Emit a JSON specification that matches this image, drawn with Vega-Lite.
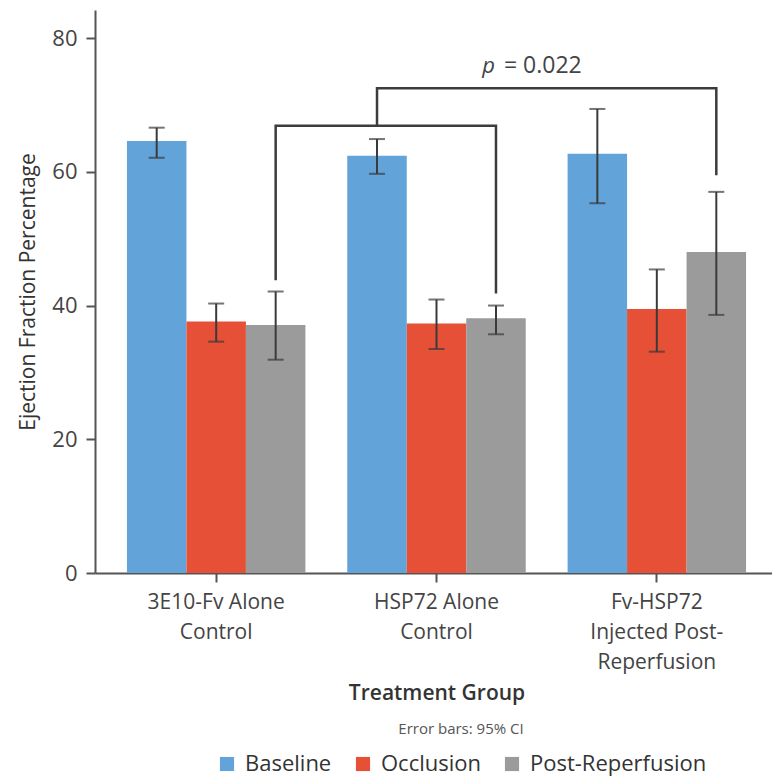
{
  "$schema": "https://vega.github.io/schema/vega-lite/v6.json",
  "width": 683,
  "height": 563,
  "padding": {"left": 17, "top": 10, "right": 0, "bottom": 5},
  "config": {
    "font": "Open Sans",
    "view": {"stroke": null},
    "axis": {"labelColor": "#444444", "titleColor": "#333333", "domainColor": "#555555", "tickColor": "#555555", "domainWidth": 2, "tickWidth": 2, "grid": false}
  },
  "datasets": {
    "bars": [
      {"group": "3E10-Fv Alone\nControl", "series": "Baseline", "value": 64.6, "lo": 62.1, "hi": 66.6},
      {"group": "3E10-Fv Alone\nControl", "series": "Occlusion", "value": 37.6, "lo": 34.6, "hi": 40.3},
      {"group": "3E10-Fv Alone\nControl", "series": "Post-Reperfusion", "value": 37.1, "lo": 31.9, "hi": 42.1},
      {"group": "HSP72 Alone\nControl", "series": "Baseline", "value": 62.4, "lo": 59.7, "hi": 64.9},
      {"group": "HSP72 Alone\nControl", "series": "Occlusion", "value": 37.3, "lo": 33.5, "hi": 40.9},
      {"group": "HSP72 Alone\nControl", "series": "Post-Reperfusion", "value": 38.1, "lo": 35.7, "hi": 40.0},
      {"group": "Fv-HSP72\nInjected Post-\nReperfusion", "series": "Baseline", "value": 62.7, "lo": 55.3, "hi": 69.4},
      {"group": "Fv-HSP72\nInjected Post-\nReperfusion", "series": "Occlusion", "value": 39.5, "lo": 33.1, "hi": 45.4},
      {"group": "Fv-HSP72\nInjected Post-\nReperfusion", "series": "Post-Reperfusion", "value": 48.0, "lo": 38.6, "hi": 57.0}
    ],
    "brackets": [
      {"bracket": "inner", "step": 1, "group": "3E10-Fv Alone\nControl", "series": "Post-Reperfusion", "value": 43.8},
      {"bracket": "inner", "step": 2, "group": "3E10-Fv Alone\nControl", "series": "Post-Reperfusion", "value": 66.9},
      {"bracket": "inner", "step": 3, "group": "HSP72 Alone\nControl", "series": "Post-Reperfusion", "value": 66.9},
      {"bracket": "inner", "step": 4, "group": "HSP72 Alone\nControl", "series": "Post-Reperfusion", "value": 41.8},
      {"bracket": "outer", "step": 1, "group": "HSP72 Alone\nControl", "series": "Baseline", "value": 66.9},
      {"bracket": "outer", "step": 2, "group": "HSP72 Alone\nControl", "series": "Baseline", "value": 72.5},
      {"bracket": "outer", "step": 3, "group": "Fv-HSP72\nInjected Post-\nReperfusion", "series": "Post-Reperfusion", "value": 72.5},
      {"bracket": "outer", "step": 4, "group": "Fv-HSP72\nInjected Post-\nReperfusion", "series": "Post-Reperfusion", "value": 59.5}
    ],
    "pval": [
      {"part": "p", "group": "HSP72 Alone\nControl", "series": "Post-Reperfusion", "value": 74.8},
      {"part": "= 0.022", "group": "HSP72 Alone\nControl", "series": "Post-Reperfusion", "value": 74.8}
    ]
  },
  "encoding": {
    "x": {
      "field": "group", "type": "nominal", "sort": null,
      "scale": {"paddingInner": 0.19, "paddingOuter": 0.145},
      "axis": {
        "title": "Treatment Group", "labelAngle": 0,
        "labelExpr": "split(datum.label, '\\n')",
        "labelFontSize": 21, "labelLineHeight": 30, "labelPadding": 9, "tickSize": 9,
        "titleFontSize": 21, "titleFontWeight": 600, "titlePadding": 10
      }
    },
    "xOffset": {"field": "series", "type": "nominal", "sort": ["Baseline", "Occlusion", "Post-Reperfusion"], "scale": {"domain": ["Baseline", "Occlusion", "Post-Reperfusion"], "paddingInner": 0, "paddingOuter": 0}},
    "y": {
      "field": "value", "type": "quantitative",
      "scale": {"domain": [0, 84.2], "nice": false},
      "axis": {
        "title": "Ejection Fraction Percentage", "values": [0, 20, 40, 60, 80],
        "labelFontSize": 22, "labelPadding": 9, "tickSize": 9,
        "titleFontSize": 21, "titleFontWeight": 500, "titlePadding": 13
      }
    }
  },
  "layer": [
    {
      "data": {"name": "bars"},
      "mark": {"type": "bar"},
      "encoding": {
        "color": {
          "field": "series", "type": "nominal",
          "scale": {"domain": ["Baseline", "Occlusion", "Post-Reperfusion"], "range": ["#62a3da", "#e55036", "#9b9b9b"]},
          "legend": {
            "orient": "none", "legendX": 121, "legendY": 712, "direction": "horizontal", "title": "Error bars: 95% CI",
            "titleFontSize": 15, "titleFontWeight": "normal", "titleColor": "#555555", "titleAnchor": "middle", "titlePadding": 16,
            "labelFontSize": 22, "labelColor": "#333333", "labelLimit": 400, "symbolType": "square", "symbolSize": 200, "symbolStrokeWidth": 0,
            "columnPadding": 20, "labelOffset": 7
          }
        }
      }
    },
    {
      "data": {"name": "bars"},
      "mark": {"type": "rule", "color": "#3a3a3a", "strokeWidth": 2},
      "encoding": {"y": {"field": "lo", "type": "quantitative"}, "y2": {"field": "hi"}}
    },
    {
      "data": {"name": "bars"},
      "mark": {"type": "tick", "color": "#3a3a3a", "thickness": 2, "size": 16, "orient": "horizontal"},
      "encoding": {"y": {"field": "lo", "type": "quantitative"}}
    },
    {
      "data": {"name": "bars"},
      "mark": {"type": "tick", "color": "#3a3a3a", "thickness": 2, "size": 16, "orient": "horizontal"},
      "encoding": {"y": {"field": "hi", "type": "quantitative"}}
    },
    {
      "data": {"name": "brackets"},
      "mark": {"type": "line", "color": "#3c3c3c", "strokeWidth": 2.5, "interpolate": "linear"},
      "encoding": {
        "detail": {"field": "bracket", "type": "nominal"},
        "order": {"field": "step", "type": "quantitative"}
      }
    },
    {
      "data": {"name": "pval"},
      "transform": [{"filter": "datum.part == 'p'"}],
      "mark": {"type": "text", "fontStyle": "italic", "fontSize": 22, "align": "right", "baseline": "alphabetic", "dx": -1, "color": "#444444"},
      "encoding": {"text": {"field": "part"}}
    },
    {
      "data": {"name": "pval"},
      "transform": [{"filter": "datum.part != 'p'"}],
      "mark": {"type": "text", "fontSize": 23, "align": "left", "baseline": "alphabetic", "dx": 8, "color": "#444444"},
      "encoding": {"text": {"field": "part"}}
    }
  ]
}
